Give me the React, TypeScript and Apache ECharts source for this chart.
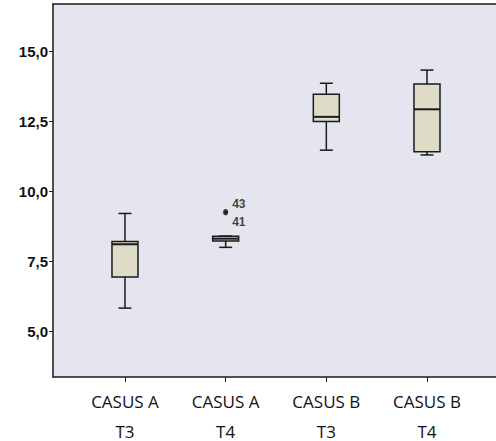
import React, { useEffect, useRef } from "react";
import * as echarts from "echarts";

const categories = ["CASUS A\nT3", "CASUS A\nT4", "CASUS B\nT3", "CASUS B\nT4"];
// [min, Q1, median, Q3, max]
const boxValues = [
  [5.82, 6.93, 8.1, 8.2, 9.2],
  [7.99, 8.22, 8.3, 8.39, 8.39],
  [11.46, 12.48, 12.65, 13.46, 13.85],
  [11.29, 11.4, 12.92, 13.82, 14.32],
];
// [categoryIndex(1-based), value, caseId]
const outliers = [
  [2, 9.27, "43"],
  [2, 9.22, "41"],
];
const yTicks = [5, 7.5, 10, 12.5, 15];

export default function App() {
  const ref = useRef<HTMLDivElement>(null);
  useEffect(() => {
    const chart = echarts.init(ref.current!, null, { renderer: "svg" });
    const boxData = boxValues.map((b, i) => [i + 1, ...b]);
    const ink = "#1a1a1a";
    chart.setOption({
      animation: false,
      backgroundColor: "#ffffff",
      grid: {
        left: 53,
        top: 4,
        width: 449,
        height: 373,
        containLabel: false,
        outerBoundsMode: "none",
        show: true,
        backgroundColor: "#e5e5ef",
        borderWidth: 0,
      },
      xAxis: [
        {
          type: "value",
          min: 0.285,
          max: 4.745,
          splitLine: { show: false },
          axisLine: { show: true, lineStyle: { color: ink, width: 1.5 } },
          axisTick: {
            show: true,
            customValues: [1, 2, 3, 4],
            length: 5,
            lineStyle: { color: ink, width: 1 },
          },
          axisLabel: {
            customValues: [1, 2, 3, 4],
            formatter: (v: number) => categories[Math.round(v) - 1] ?? "",
            color: "#111",
            fontFamily: "Open Sans",
            fontSize: 17,
            lineHeight: 30,
            margin: 9,
          },
        },
        {
          type: "value",
          position: "top",
          min: 0.285,
          max: 4.745,
          splitLine: { show: false },
          axisLine: { show: true, lineStyle: { color: ink, width: 1.5 } },
          axisTick: { show: false },
          axisLabel: { show: false },
        },
      ],
      yAxis: {
        type: "value",
        min: 3.36,
        max: 16.68,
        splitLine: { show: false },
        axisLine: { show: true, lineStyle: { color: ink, width: 1.5 } },
        axisTick: {
          show: true,
          customValues: yTicks,
          length: 4,
          lineStyle: { color: ink, width: 1 },
        },
        axisLabel: {
          customValues: yTicks,
          formatter: (v: number) => v.toFixed(1).replace(".", ","),
          color: "#111",
          fontFamily: "Liberation Sans",
          fontWeight: "bold",
          fontSize: 15,
          margin: 5,
        },
      },
      series: [
        {
          type: "custom",
          data: boxData,
          encode: { x: 0, y: [1, 2, 3, 4, 5] },
          renderItem: (params: any, api: any) => {
            const x = api.value(0);
            const pMin = api.coord([x, api.value(1)]);
            const pQ1 = api.coord([x, api.value(2)]);
            const pMed = api.coord([x, api.value(3)]);
            const pQ3 = api.coord([x, api.value(4)]);
            const pMax = api.coord([x, api.value(5)]);
            const cx = pMed[0];
            const hw = 13;
            const cw = 6.5;
            const ls = { stroke: ink, lineWidth: 1.5 };
            return {
              type: "group",
              children: [
                { type: "line", shape: { x1: cx, y1: pMax[1], x2: cx, y2: pQ3[1] }, style: ls },
                { type: "line", shape: { x1: cx, y1: pQ1[1], x2: cx, y2: pMin[1] }, style: ls },
                { type: "line", shape: { x1: cx - cw, y1: pMax[1], x2: cx + cw, y2: pMax[1] }, style: ls },
                { type: "line", shape: { x1: cx - cw, y1: pMin[1], x2: cx + cw, y2: pMin[1] }, style: ls },
                {
                  type: "rect",
                  shape: { x: cx - hw, y: pQ3[1], width: hw * 2, height: pQ1[1] - pQ3[1] },
                  style: { fill: "#dedcc6", stroke: ink, lineWidth: 1.5 },
                },
                { type: "line", shape: { x1: cx - hw, y1: pMed[1], x2: cx + hw, y2: pMed[1] }, style: { stroke: ink, lineWidth: 2 } },
              ],
            };
          },
          z: 3,
        },
        {
          type: "scatter",
          data: outliers.map((o) => ({
            value: [o[0], o[1]],
            name: o[2],
            label: {
              show: true,
              formatter: o[2] as string,
              position: "right",
              offset: o[2] === "43" ? [0, -8] : [0, 9],
              distance: 4,
              color: "#111",
              fontFamily: "Liberation Sans",
              fontWeight: "bold",
              fontSize: 12,
            },
          })),
          symbol: "circle",
          symbolSize: 5,
          itemStyle: { color: "#1a1a1a" },
          z: 4,
        },
      ],
    });
    return () => chart.dispose();
  }, []);
  return (
    <div
      ref={ref}
      style={{ position: "fixed", left: 0, top: 0, width: 496, height: 441 }}
    />
  );
}
